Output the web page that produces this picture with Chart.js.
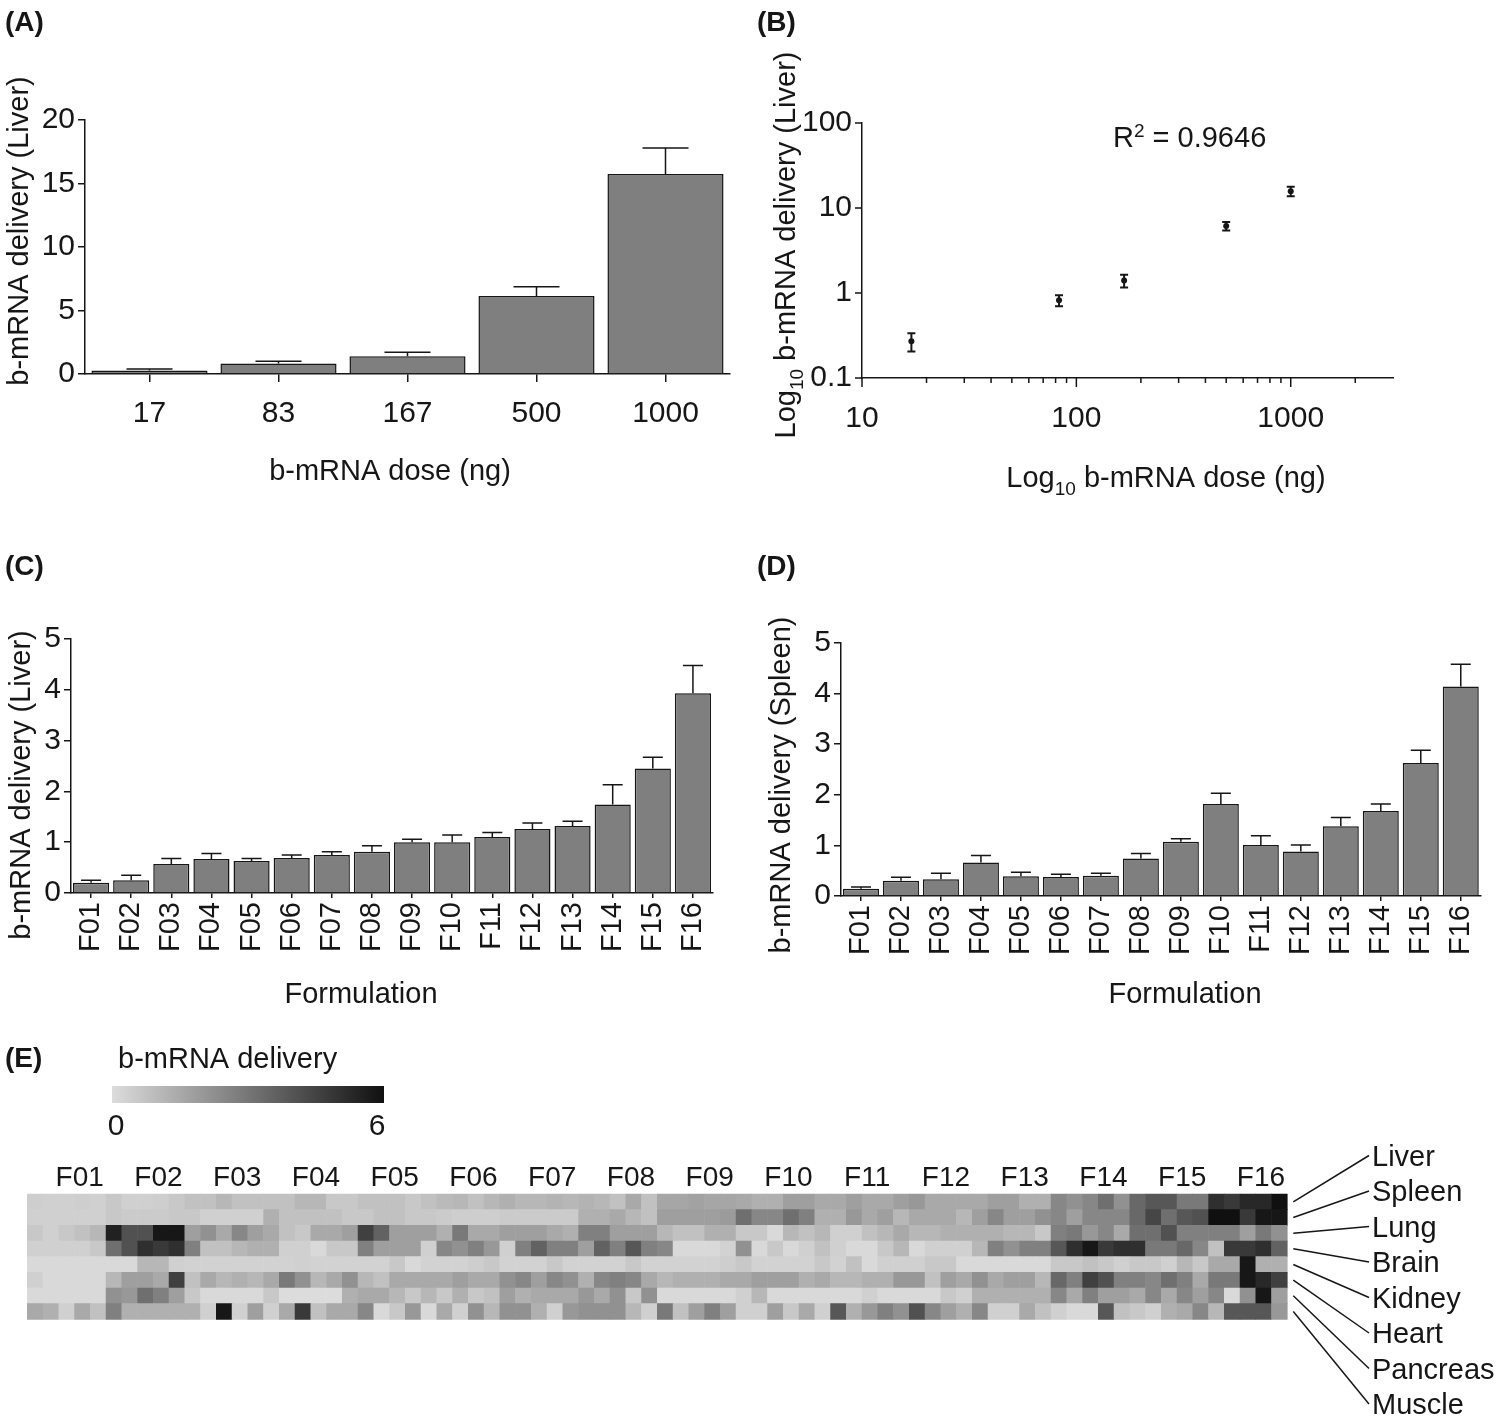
<!DOCTYPE html>
<html>
<head>
<meta charset="utf-8">
<title>b-mRNA delivery</title>
<script src="https://cdn.jsdelivr.net/npm/chart.js@4.4.1/dist/chart.umd.min.js"></script>
<style>
  html, body { margin:0; padding:0; background:#ffffff; }
  body { width:1500px; height:1422px; position:relative; overflow:hidden; }
  canvas { position:absolute; left:0; top:0; }
</style>
</head>
<body>
<canvas id="chartA" width="1500" height="1422"></canvas>
<canvas id="chartB" width="1500" height="1422"></canvas>
<canvas id="chartC" width="1500" height="1422"></canvas>
<canvas id="chartD" width="1500" height="1422"></canvas>
<canvas id="chartE" width="1500" height="1422"></canvas>
<script>
// ================= DATA =================
const doseLabels = ['17', '83', '167', '500', '1000'];
const doseValues = [17, 83, 167, 500, 1000];
const liverByDose = [0.27, 0.82, 1.40, 6.14, 15.75];
const liverByDoseErr = [0.12, 0.18, 0.31, 0.73, 2.05];
const liverByDoseLogErr = [0.065, 0.12, 0.24, 0.72, 2.0];
const rSquaredValue = '0.9646';

const logMajorX = [10, 100, 1000];
const logMinorX = [20, 30, 40, 50, 60, 70, 80, 90, 200, 300, 400, 500, 600, 700, 800, 900, 2000];
const logMajorY = [0.1, 1, 10, 100];

const formulations = ['F01','F02','F03','F04','F05','F06','F07','F08','F09','F10','F11','F12','F13','F14','F15','F16'];
const liverByFormulation    = [0.20, 0.25, 0.57, 0.67, 0.63, 0.69, 0.75, 0.81, 1.00, 1.00, 1.10, 1.26, 1.32, 1.74, 2.45, 3.93];
const liverByFormulationErr = [0.05, 0.10, 0.11, 0.11, 0.05, 0.06, 0.06, 0.12, 0.06, 0.14, 0.09, 0.12, 0.09, 0.39, 0.22, 0.55];
const spleenByFormulation    = [0.145, 0.30, 0.33, 0.66, 0.39, 0.375, 0.40, 0.74, 1.07, 1.82, 1.01, 0.88, 1.38, 1.68, 2.63, 4.14];
const spleenByFormulationErr = [0.035, 0.07, 0.12, 0.14, 0.08, 0.055, 0.05, 0.10, 0.06, 0.21, 0.18, 0.13, 0.17, 0.14, 0.25, 0.44];

const organs = ['Liver', 'Spleen', 'Lung', 'Brain', 'Kidney', 'Heart', 'Pancreas', 'Muscle'];
const replicates = ['1', '2', '3', '4', '5'];
const colorbarMin = 0, colorbarMax = 6;

const heatLiver = [
0.4,0.35,0.35,0.4,0.35, 0.6,0.35,0.35,0.4,0.6, 0.8,0.8,1.1,0.8,0.8, 0.8,0.8,1.1,1.1,0.6,
0.6,0.8,0.8,0.8,0.6, 0.8,1.0,1.1,0.8,1.1, 1.3,1.1,1.1,1.2,1.1, 1.2,1.1,0.8,1.5,0.8,
1.6,1.6,1.7,1.6,1.6, 1.5,1.3,1.3,1.8,1.8, 1.5,1.5,1.8,1.5,1.5, 1.8,2.0,1.5,1.5,1.5,
1.5,1.8,1.8,1.3,1.3, 2.5,2.2,2.5,3.2,2.2, 3.4,3.9,3.9,2.9,2.9, 5.1,4.8,5.3,5.3,6.0];
const heatSpleen = [
0.35,0.35,0.35,0.35,0.35, 0.6,0.5,0.5,0.5,0.6, 0.6,0.35,0.35,0.35,0.35, 1.3,0.8,0.8,0.8,0.8,
0.6,0.6,0.8,0.8,0.6, 0.6,0.5,0.4,0.4,0.4, 0.5,0.5,0.5,0.5,0.5, 1.3,1.3,1.5,1.1,0.8,
1.8,1.8,1.8,1.8,1.9, 3.2,2.5,2.5,3.2,2.7, 1.3,1.3,2.0,1.5,1.8, 1.1,1.5,1.5,1.5,1.1,
1.8,2.5,1.8,1.8,2.2, 2.5,1.8,2.5,2.5,2.5, 3.4,4.4,3.2,3.9,4.1, 6.0,6.0,4.8,5.8,5.8];
const heatLung = [
0.6,0.35,0.6,0.8,1.1, 5.5,4.1,4.1,5.8,5.8, 1.8,2.2,1.5,2.5,1.8, 1.5,0.8,0.6,1.5,1.5,
1.8,4.6,3.6,1.8,1.8, 1.8,1.3,2.9,1.5,1.5, 1.8,1.8,1.8,1.5,1.3, 2.7,2.7,1.8,1.8,1.8,
1.1,0.8,0.8,1.3,1.3, 0.6,0.6,0.1,1.1,0.8, 1.1,0.35,0.35,0.8,1.1, 1.5,1.1,1.1,1.3,1.3,
1.3,1.3,1.1,1.1,0.6, 2.7,2.9,2.0,2.5,1.5, 3.2,3.2,4.1,2.7,2.7, 2.7,2.7,1.8,2.9,2.2];
const heatBrain = [
0.35,0.35,0.35,0.35,0.6, 3.2,4.1,5.1,4.8,5.1, 2.7,0.8,0.8,1.1,1.3, 1.3,0.35,0.35,0.1,0.6,
0.6,2.7,1.8,1.8,1.8, 0.35,2.5,2.2,2.7,2.0, 0.35,2.7,3.6,2.7,2.7, 1.8,3.6,2.7,3.9,2.7,
2.5,0.1,0.1,0.1,0.3, 2.2,0.1,0.6,0.1,0.35, 0.8,0.35,0.1,0.1,0.6, 1.1,0.1,0.35,0.35,0.35,
1.1,2.7,2.2,2.7,2.7, 3.9,5.1,5.8,4.8,5.1, 5.1,2.9,2.9,3.4,2.5, 0.8,4.8,4.8,5.1,3.6];
const heatKidney = [
0.1,0.1,0.1,0.1,0.1, 0.1,0.1,1.1,1.1,0.35, 0.3,0.3,0.3,0.3,0.3, 0.3,0.3,0.35,0.3,0.3,
0.3,0.3,0.3,0.6,0.1, 0.3,0.3,0.3,0.4,0.6, 0.3,0.3,0.3,0.6,0.3, 0.3,0.3,0.3,0.6,0.3,
0.3,0.3,0.3,0.3,0.4, 0.6,0.3,0.3,0.3,0.3, 0.6,0.3,0.8,0.1,0.35, 0.35,0.35,0.6,0.6,0.1,
0.1,0.1,0.1,0.1,0.1, 0.6,0.6,0.8,0.6,0.35, 0.6,0.6,0.35,1.1,0.6, 1.5,1.5,5.8,1.3,1.3];
const heatHeart = [
0.35,0.1,0.1,0.1,0.1, 1.1,1.8,1.8,1.5,4.6, 0.8,1.5,1.1,1.3,1.1, 1.5,2.9,2.2,1.1,1.5,
2.2,1.1,0.8,1.5,1.5, 1.5,1.5,1.8,1.5,1.5, 2.2,2.5,1.8,2.5,2.2, 1.3,2.5,2.7,2.5,1.5,
1.1,1.3,1.3,1.3,1.5, 1.5,1.8,1.8,1.8,1.3, 1.5,1.1,1.1,1.3,1.3, 2.0,2.0,0.8,1.8,1.5,
2.2,1.5,1.8,1.8,1.1, 3.4,2.7,4.6,4.1,2.7, 2.7,2.5,3.2,2.7,1.5, 2.9,2.9,5.8,5.3,4.6];
const heatPancreas = [
0.1,0.1,0.1,0.1,0.1, 2.2,2.0,3.2,2.7,1.8, 0.6,0.1,0.1,0.1,0.1, 0.6,0,0,0,0,
1.3,1.5,1.5,1.1,0.6, 1.1,0.6,1.3,0.6,0.8, 1.8,1.3,1.5,1.5,1.5, 2.0,1.5,2.2,0.6,2.2,
0.1,0.1,0.1,0.1,0.1, 0.35,1.1,0.1,0.1,0.1, 0.1,0.1,0.1,0.35,0.1, 0.1,0.1,0.1,0.6,0.35,
1.3,1.3,1.3,1.3,1.3, 2.5,1.5,2.7,1.8,1.8, 1.5,2.5,1.5,2.5,1.8, 2.5,0.1,2.2,5.8,1.8];
const heatMuscle = [
1.5,1.3,0.35,1.5,0.8, 2.7,1.3,1.3,1.3,1.3, 1.3,0.35,5.8,0.35,1.8, 0.35,1.5,4.8,0.8,1.5,
1.5,2.5,0.1,0.6,2.0, 0.1,1.5,0.35,2.2,1.1, 2.2,2.2,1.3,0.35,2.0, 2.2,2.2,2.2,1.1,0.35,
2.9,0.8,1.8,2.7,1.8, 0.35,0.35,1.8,0.6,1.5, 0.35,3.9,1.3,2.0,2.7, 2.2,4.1,2.5,1.8,1.3,
2.5,0.35,0.35,1.5,0.8, 0.35,0.1,0.1,3.9,0.8, 0.6,0.35,1.3,1.5,2.5, 1.1,3.9,3.9,3.9,2.0];

// ================= STYLE =================
const FONT = "'Liberation Sans', Arial, Helvetica, sans-serif";
const INK = '#161616';
const BAR = '#7f7f7f';
const TICK_SIZE = 30;
const TITLE_SIZE = 29;
Chart.defaults.font.family = FONT;
Chart.defaults.color = INK;

function gray(v) {
  const t = (v - colorbarMin) / (colorbarMax - colorbarMin);
  const g = Math.max(16, Math.min(224, Math.round(220 - t * 204)));
  return 'rgb(' + g + ',' + g + ',' + g + ')';
}

function drawRich(ctx, segs, x, y, size, o) {
  o = o || {};
  const align = o.align || 'left';
  const weight = o.bold ? 'bold ' : '';
  if (typeof segs === 'string') segs = [{ t: segs }];
  ctx.save();
  ctx.translate(x, y);
  if (o.rot) ctx.rotate(o.rot);
  const parts = segs.map(s => {
    const sz = (s.sub || s.sup) ? Math.round(size * 0.64) : size;
    ctx.font = weight + sz + 'px ' + FONT;
    return { t: s.t, sz: sz, w: ctx.measureText(s.t).width, dy: s.sub ? size * 0.27 : (s.sup ? -size * 0.36 : 0) };
  });
  const total = parts.reduce((a, p) => a + p.w, 0);
  let cx = align === 'center' ? -total / 2 : (align === 'right' ? -total : 0);
  ctx.fillStyle = INK;
  ctx.textAlign = 'left';
  ctx.textBaseline = 'alphabetic';
  const base = size * 0.36;
  parts.forEach(p => {
    ctx.font = weight + p.sz + 'px ' + FONT;
    ctx.fillText(p.t, cx, base + p.dy);
    cx += p.w;
  });
  ctx.restore();
}

const extras = {};

const extrasPlugin = {
  id: 'extras',
  afterDatasetsDraw(chart) {
    const ex = extras[chart.canvas.id];
    if (!ex || !ex.err) return;
    const e = ex.err;
    const ctx = chart.ctx, meta = chart.getDatasetMeta(0), ys = chart.scales.y;
    const vals = chart.data.datasets[0].data;
    ctx.save();
    ctx.strokeStyle = INK;
    ctx.lineWidth = e.lineWidth;
    meta.data.forEach((el, i) => {
      const raw = vals[i];
      const v = (typeof raw === 'object') ? raw.y : raw;
      const d = e.errors[i];
      const yHi = ys.getPixelForValue(v + d);
      const yLo = e.both ? ys.getPixelForValue(v - d) : el.y;
      const x = el.x, h = e.cap / 2;
      ctx.beginPath();
      ctx.moveTo(x, yLo); ctx.lineTo(x, yHi);
      ctx.moveTo(x - h, yHi); ctx.lineTo(x + h, yHi);
      if (e.both) { ctx.moveTo(x - h, yLo); ctx.lineTo(x + h, yLo); }
      ctx.stroke();
    });
    ctx.restore();
  },
  afterDraw(chart) {
    const ex = extras[chart.canvas.id];
    if (!ex) return;
    const ctx = chart.ctx;
    if (ex.logTicks) {
      const xs = chart.scales.x, ys = chart.scales.y, ca = chart.chartArea;
      ctx.save();
      ctx.strokeStyle = INK; ctx.lineWidth = 1.5;
      ctx.beginPath();
      ex.logTicks.majorX.forEach(v => { const px = xs.getPixelForValue(v); ctx.moveTo(px, ca.bottom); ctx.lineTo(px, ca.bottom + 9); });
      ex.logTicks.minorX.forEach(v => { const px = xs.getPixelForValue(v); ctx.moveTo(px, ca.bottom); ctx.lineTo(px, ca.bottom + 5); });
      ex.logTicks.majorY.forEach(v => { const py = ys.getPixelForValue(v); ctx.moveTo(ca.left, py); ctx.lineTo(ca.left - 7, py); });
      ctx.stroke();
      ctx.restore();
    }
    if (ex.heat) ex.heat(chart, ctx);
    (ex.texts || []).forEach(it => drawRich(ctx, it.s, it.x, it.y, it.size || TITLE_SIZE, it));
  }
};
Chart.register(extrasPlugin);

function fixW(w) { return s => { s.width = w; }; }
function fixH(h) { return s => { s.height = h; }; }

function barChart(id, labels, values, plot, xTicks, yMax) {
  const AXW = 60, AXH = 60;
  return new Chart(document.getElementById(id), {
    type: 'bar',
    data: { labels: labels, datasets: [{ data: values, backgroundColor: BAR, borderColor: INK, borderWidth: 1.5,
      borderSkipped: 'start', barPercentage: 0.9, categoryPercentage: 1.0 }] },
    options: {
      responsive: false, animation: false, events: [],
      layout: { padding: { left: plot.l - AXW, right: 1500 - plot.r, top: plot.t, bottom: 1422 - plot.b - AXH } },
      plugins: { legend: { display: false }, tooltip: { enabled: false } },
      scales: {
        x: {
          type: 'category', offset: true, afterFit: fixH(AXH),
          grid: { display: true, drawOnChartArea: false, drawTicks: true, tickLength: xTicks.len, offset: false, color: INK, lineWidth: 1.5 },
          border: { display: true, color: INK, width: 1.5 },
          ticks: { autoSkip: false, minRotation: xTicks.rot, maxRotation: xTicks.rot, padding: xTicks.pad,
            font: { family: FONT, size: xTicks.size }, color: INK }
        },
        y: {
          min: 0, max: yMax.max, afterFit: fixW(AXW),
          grid: { display: true, drawOnChartArea: false, drawTicks: true, tickLength: 7, color: INK, lineWidth: 1.5 },
          border: { display: true, color: INK, width: 1.5 },
          ticks: { stepSize: yMax.step, padding: 3, font: { family: FONT, size: TICK_SIZE }, color: INK }
        }
      }
    }
  });
}

// ---------- Panel A ----------
extras.chartA = {
  err: { errors: liverByDoseErr, cap: 46, lineWidth: 1.5 },
  texts: [
    { s: '(A)', x: 5, y: 21, size: 28, bold: true },
    { s: 'b-mRNA delivery (Liver)', x: 18, y: 231, rot: -Math.PI / 2, align: 'center' },
    { s: 'b-mRNA dose (ng)', x: 390, y: 470, align: 'center' }
  ]
};
barChart('chartA', doseLabels, liverByDose, { l: 85, r: 730, t: 120, b: 374 }, { len: 8, rot: 0, pad: 14, size: TICK_SIZE }, { max: 20, step: 5 });

// ---------- Panel B ----------
function isPow10(v) { const l = Math.log10(v); return Math.abs(l - Math.round(l)) < 1e-9; }
extras.chartB = {
  err: { errors: liverByDoseLogErr, cap: 8, lineWidth: 2, both: true },
  logTicks: { majorX: logMajorX, minorX: logMinorX, majorY: logMajorY },
  texts: [
    { s: '(B)', x: 757, y: 21, size: 28, bold: true },
    { s: [{ t: 'Log' }, { t: '10', sub: true }, { t: ' b-mRNA delivery (Liver)' }], x: 785, y: 245, rot: -Math.PI / 2, align: 'center' },
    { s: [{ t: 'Log' }, { t: '10', sub: true }, { t: ' b-mRNA dose (ng)' }], x: 1166, y: 477, align: 'center' },
    { s: [{ t: 'R' }, { t: '2', sup: true }, { t: ' = ' + rSquaredValue }], x: 1113, y: 137 }
  ]
};
(function () {
  const plot = { l: 862, r: 1393, t: 123, b: 378 };
  const AXW = 60, AXH = 60;
  new Chart(document.getElementById('chartB'), {
    type: 'scatter',
    data: { datasets: [{ data: doseValues.map((d, i) => ({ x: d, y: liverByDose[i] })),
      pointRadius: 3, backgroundColor: INK, borderWidth: 0 }] },
    options: {
      responsive: false, animation: false, events: [],
      layout: { padding: { left: plot.l - AXW, right: 1500 - plot.r, top: plot.t, bottom: 1422 - plot.b - AXH } },
      plugins: { legend: { display: false }, tooltip: { enabled: false } },
      scales: {
        x: {
          type: 'logarithmic', min: 10, max: 3000, afterFit: fixH(AXH),
          grid: { display: false, drawTicks: false },
          border: { display: true, color: INK, width: 1.5 },
          ticks: { autoSkip: false, minRotation: 0, maxRotation: 0, padding: 23, font: { family: FONT, size: TICK_SIZE }, color: INK,
            callback: v => isPow10(v) ? String(v) : '' }
        },
        y: {
          type: 'logarithmic', min: 0.1, max: 100, afterFit: fixW(AXW),
          grid: { display: false, drawTicks: false },
          border: { display: true, color: INK, width: 1.5 },
          ticks: { autoSkip: false, padding: 10, font: { family: FONT, size: TICK_SIZE }, color: INK,
            callback: v => isPow10(v) ? String(v) : '' }
        }
      }
    }
  });
})();

// ---------- Panel C ----------
extras.chartC = {
  err: { errors: liverByFormulationErr, cap: 20, lineWidth: 1.5 },
  texts: [
    { s: '(C)', x: 5, y: 565, size: 28, bold: true },
    { s: 'b-mRNA delivery (Liver)', x: 20, y: 785, rot: -Math.PI / 2, align: 'center' },
    { s: 'Formulation', x: 361, y: 993, align: 'center' }
  ]
};
barChart('chartC', formulations, liverByFormulation, { l: 71, r: 713, t: 639, b: 893 }, { len: 5, rot: 90, pad: 4, size: 29 }, { max: 5, step: 1 });

// ---------- Panel D ----------
extras.chartD = {
  err: { errors: spleenByFormulationErr, cap: 20, lineWidth: 1.5 },
  texts: [
    { s: '(D)', x: 757, y: 565, size: 28, bold: true },
    { s: 'b-mRNA delivery (Spleen)', x: 780, y: 785, rot: -Math.PI / 2, align: 'center' },
    { s: 'Formulation', x: 1185, y: 993, align: 'center' }
  ]
};
barChart('chartD', formulations, spleenByFormulation, { l: 841, r: 1486, t: 643, b: 896 }, { len: 5, rot: 90, pad: 4, size: 29 }, { max: 5, step: 1 });

// ---------- Panel E (heat map) ----------
const heatRows = [heatLiver, heatSpleen, heatLung, heatBrain, heatKidney, heatHeart, heatPancreas, heatMuscle];
const heatColumns = [];
formulations.forEach(f => replicates.forEach(r => heatColumns.push(f + '-' + r)));
const heatPoints = [];
organs.forEach((o, r) => heatRows[r].forEach((v, c) => heatPoints.push({ x: heatColumns[c], y: o, v: v })));

extras.chartE = {
  texts: [
    { s: '(E)', x: 5, y: 1057, size: 28, bold: true },
    { s: 'b-mRNA delivery', x: 118, y: 1058 },
    { s: String(colorbarMin), x: 116, y: 1124, align: 'center', size: TICK_SIZE },
    { s: String(colorbarMax), x: 377, y: 1124, align: 'center', size: TICK_SIZE }
  ],
  heat: function (chart, ctx) {
    // colour bar
    const x0 = 112, x1 = 384, y0 = 1086, y1 = 1103;
    const g = ctx.createLinearGradient(x0, 0, x1, 0);
    g.addColorStop(0, gray(colorbarMin));
    g.addColorStop(1, gray(colorbarMax));
    ctx.save();
    ctx.fillStyle = g;
    ctx.fillRect(x0, y0, x1 - x0, y1 - y0);
    // organ labels with leader lines
    const ys = chart.scales.y, ca = chart.chartArea;
    ctx.strokeStyle = INK; ctx.lineWidth = 1.5;
    organs.forEach((o, i) => {
      const ly = 1155.5 + i * 35.5;
      const ry = ys.getPixelForValue(i);
      ctx.beginPath();
      ctx.moveTo(ca.right + 6, ry);
      ctx.lineTo(1369, ly);
      ctx.stroke();
      drawRich(ctx, o, 1372, ly, TITLE_SIZE);
    });
    ctx.restore();
  }
};
(function () {
  const plot = { l: 27.3, r: 1287.3, t: 1194, b: 1319.3 };
  const AXH = 40;
  new Chart(document.getElementById('chartE'), {
    type: 'scatter',
    data: { datasets: [{
      data: heatPoints,
      pointStyle: 'rect',
      pointRadius: ctx => { const ca = ctx.chart.chartArea; if (!ca) return 11; return ((ca.right - ca.left) / heatColumns.length + 0.6) / Math.SQRT2; },
      backgroundColor: ctx => gray(ctx.raw ? ctx.raw.v : 0),
      borderWidth: 0
    }] },
    options: {
      responsive: false, animation: false, events: [],
      layout: { padding: { left: plot.l, right: 1500 - plot.r, top: plot.t - AXH, bottom: 1422 - plot.b } },
      plugins: { legend: { display: false }, tooltip: { enabled: false } },
      scales: {
        x: {
          type: 'category', labels: heatColumns, position: 'top', offset: true, afterFit: fixH(AXH),
          grid: { display: false, drawTicks: false },
          border: { display: false },
          ticks: { autoSkip: false, minRotation: 0, maxRotation: 0, padding: -1, labelOffset: 13, font: { family: FONT, size: 28 }, color: INK,
            callback: (val, idx) => (idx % replicates.length === 2) ? formulations[Math.floor(idx / replicates.length)] : '' }
        },
        y: { type: 'category', labels: organs, offset: true, display: false }
      }
    }
  });
})();
</script>
</body>
</html>
